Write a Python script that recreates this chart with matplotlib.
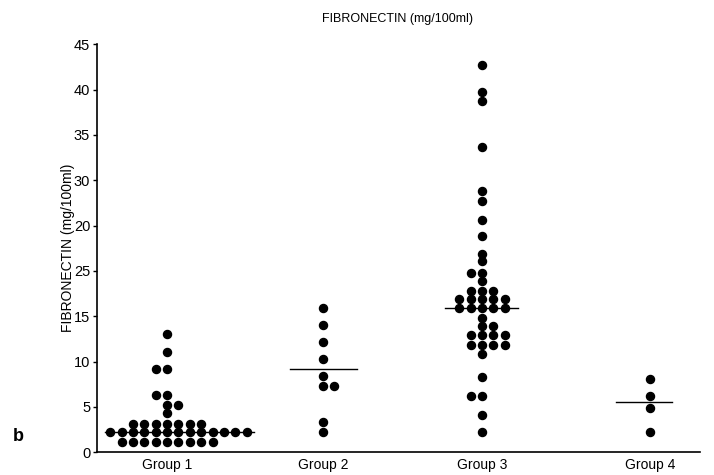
import matplotlib.pyplot as plt

plt.rcParams['font.family'] = ['Liberation Sans', 'DejaVu Sans']

groups = ['Group 1', 'Group 2', 'Group 3', 'Group 4']
group_pos = [1.0, 2.0, 3.02, 4.10]
col_step = 0.073

# (value, column) per dot, value in axis position units
g1_vals = [1.1] * 9 + [2.2] * 13 + [3.1] * 7 + [4.3, 5.2, 5.2, 6.3, 6.3, 9.15, 9.15, 11.0, 13.0]
g1_cols = list(range(-4, 5)) + list(range(-5, 8)) + list(range(-3, 4)) + [0, 0, 1, -1, 0, -1, 0, 0, 0]

g2_vals = [2.2, 3.3, 7.3, 7.3, 8.4, 10.25, 12.1, 14.0, 15.9]
g2_cols = [0, 0, 0, 1, 0, 0, 0, 0, 0]

g3_vals = ([2.2, 4.15, 6.2, 6.2, 8.3, 10.8]
           + [11.8] * 4 + [12.9] * 4 + [13.9, 13.9, 14.85]
           + [15.85] * 5 + [16.9] * 5 + [17.75] * 3
           + [18.85, 19.8, 19.8, 21.06, 21.9, 23.8, 25.6, 27.7, 28.8, 33.7, 38.7, 39.7, 42.7])
g3_cols = ([0, 0, -1, 0, 0, 0]
           + [-1, 0, 1, 2] + [-1, 0, 1, 2] + [0, 1, 0]
           + [-2, -1, 0, 1, 2] + [-2, -1, 0, 1, 2] + [-1, 0, 1]
           + [0, -1, 0, 0, 0, 0, 0, 0, 0, 0, 0, 0, 0])

g4_vals = [2.2, 4.85, 6.2, 8.05]
g4_cols = [0, 0, 0, 0]

medians = [2.2, 9.15, 15.85, 5.5]
line_left = [-0.40, -0.21, -0.24, -0.22]
line_right = [0.56, 0.22, 0.23, 0.14]

ytick_pos = [0, 5, 10, 15, 20, 25, 30, 35, 40, 45]
ytick_lab = ['0', '5', '10', '15', '25', '20', '30', '35', '40', '45']

fig = plt.figure(figsize=(7.14, 4.75), dpi=100)
ax = fig.add_axes([0.136, 0.048, 0.844, 0.859])

all_vals = [g1_vals, g2_vals, g3_vals, g4_vals]
all_cols = [g1_cols, g2_cols, g3_cols, g4_cols]
for i in range(4):
    xs = [group_pos[i] + c * col_step for c in all_cols[i]]
    ax.plot(xs, all_vals[i], 'o', color='black', ms=5.8, mec='black')
    ax.plot([group_pos[i] + line_left[i], group_pos[i] + line_right[i]],
            [medians[i], medians[i]], color='black', lw=1)

ax.set_xlim(0.551, 4.417)
ax.set_ylim(0, 45)
ax.set_yticks(ytick_pos)
ax.set_yticklabels(ytick_lab, fontsize=10.5)
ax.set_xticks(group_pos)
ax.set_xticklabels(groups, fontsize=10)
ax.tick_params(axis='x', length=0, pad=4)
ax.tick_params(axis='y', length=3, width=1, pad=2)
ax.spines['top'].set_visible(False)
ax.spines['right'].set_visible(False)
ax.spines['left'].set_linewidth(1.2)
ax.spines['bottom'].set_linewidth(1.2)
ax.set_ylabel('FIBRONECTIN (mg/100ml)', fontsize=10, labelpad=-1)

fig.text(0.557, 0.96, 'FIBRONECTIN (mg/100ml)', ha='center', va='center', fontsize=9)
fig.text(0.025, 0.082, 'b', fontsize=13, fontweight='bold', ha='center', va='center')

fig.savefig('out.png', dpi=100)
